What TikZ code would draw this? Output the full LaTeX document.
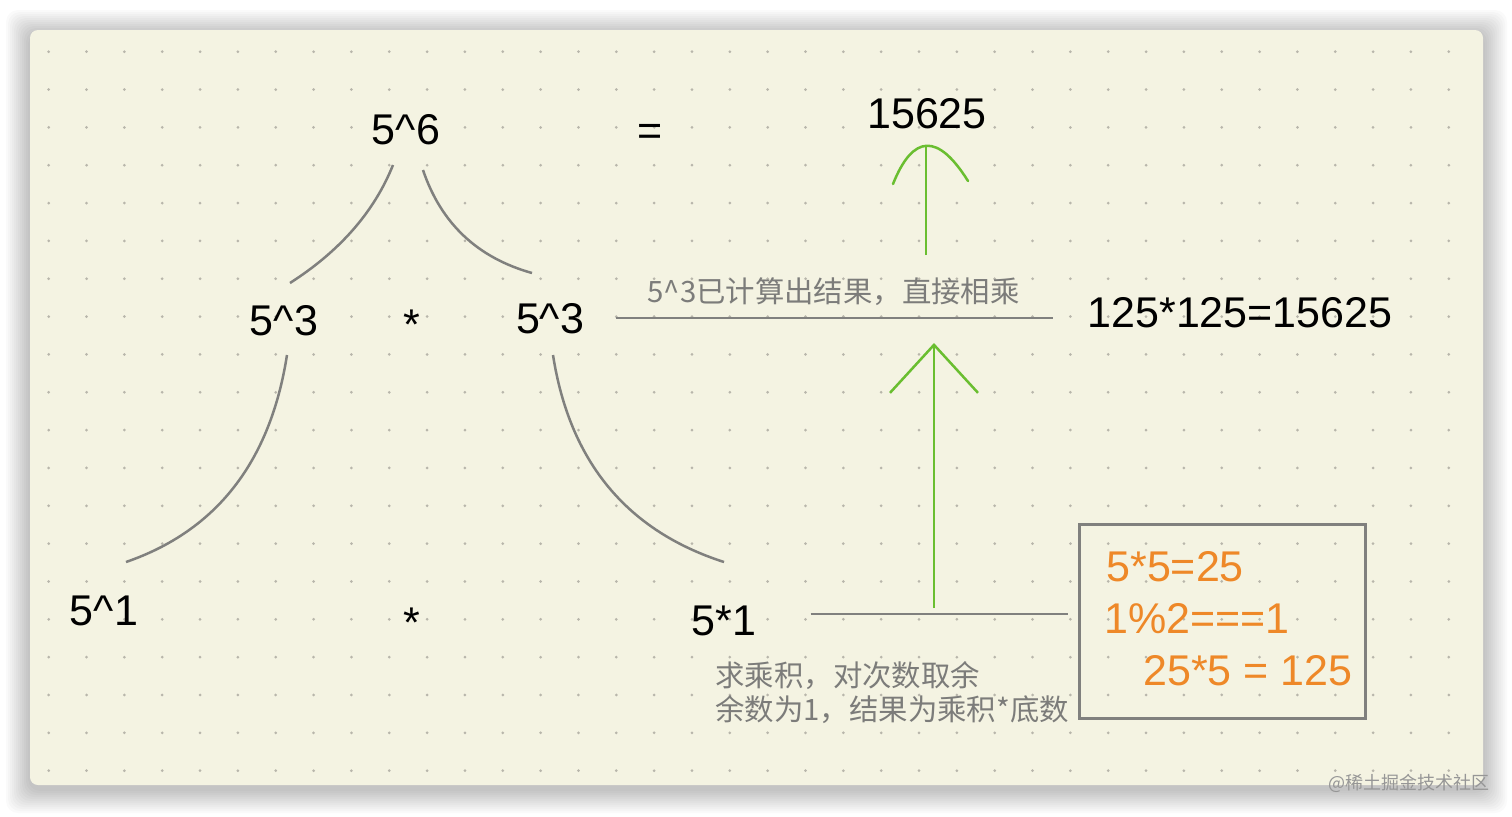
\documentclass[tikz,border=0pt]{standalone}
\usepackage{fontspec}
\setmainfont{Liberation Sans}
\newfontfamily\cjk{Noto Sans CJK SC}
\usepackage{xcolor}
\definecolor{colorCard}{RGB}{244,243,226}
\definecolor{colorDot}{RGB}{184,182,171}
\definecolor{colorSplit}{RGB}{128,128,126}
\definecolor{colorNote}{RGB}{124,124,122}
\definecolor{colorResult}{RGB}{106,190,48}
\definecolor{colorCalc}{RGB}{238,136,40}
\definecolor{colorMark}{RGB}{150,150,150}
\usetikzlibrary{arrows.meta}
\tikzset{
term/.style={font=\fontsize{21.5}{25}\selectfont, text=black, inner sep=0pt, anchor=base},
note/.style={font=\cjk\fontsize{14.7}{17}\selectfont, text=colorNote, inner sep=0pt, anchor=base west},
calc/.style={font=\fontsize{21.5}{25}\selectfont, text=colorCalc, inner sep=0pt, anchor=base west},
split/.style={draw=colorSplit, line width=1.25pt},
result/.style={draw=colorResult, line width=1.25pt},
}

\begin{document}
\begin{tikzpicture}[x=0.5pt, y=-0.5pt]
\useasboundingbox (0,0) rectangle (1512,816);
\fill[white] (0,0) rectangle (1512,816);
\foreach \s in {1,...,12}
  \fill[black, opacity=0.02, rounded corners=6pt] (30-2*\s,34-2*\s) rectangle (1483+2*\s,789+2*\s);
\fill[colorCard, rounded corners=4pt] (30,30) rectangle (1483,785);
\foreach \i in {0,...,37}
  \foreach \j in {0,...,19}
    \fill[colorDot] ({48.7+37.84*\i},{51.7+37.84*\j}) circle (0.75pt);

\node[term] (p6) at (406,144) {5\textasciicircum{}6};
\node[term] (eq) at (650,145) {=};
\node[term] (total) at (927,128) {15625};
\node[term] (p3l) at (284,335) {5\textasciicircum{}3};
\node[term] (mulTop) at (412,339) {*};
\node[term] (p3r) at (550,333) {5\textasciicircum{}3};
\node[term] (prod) at (1240,327) {125*125=15625};
\node[term] (p1) at (104,625) {5\textasciicircum{}1};
\node[term] (mulLow) at (412,637) {*};
\node[term] (odd) at (724,635) {5*1};

\node[note] (reuse) at (647,302) {5\textasciicircum{}3已计算出结果，直接相乘};
\node[note] (ruleA) at (715,686) {求乘积，对次数取余};
\node[note] (ruleB) at (715,720) {余数为1，结果为乘积*底数};

\node[draw=colorSplit, line width=1.5pt, outer sep=0pt, inner sep=0pt, minimum width=143pt, minimum height=97pt] (calcbox) at (1222,621) {};
\node[calc] (sq) at (1106,581) {5*5=25};
\node[calc] (mod) at (1104,633) {1\%2===1};
\node[calc] (mulb) at (1143,685) {25*5 = 125};
\node[font=\cjk\fontsize{9}{11}\selectfont, text=colorMark, anchor=east, inner sep=0pt] (mark) at (1490,783) {@稀土掘金技术社区};

\draw[split] ([shift={(-13,21)}]p6.base) .. controls +(-18.7,46.7) and +(50,-32) .. ([shift={(6,-52)}]p3l.base);
\draw[split] ([shift={(17,26)}]p6.base) .. controls +(18,53.3) and +(-54.7,-15.3) .. ([shift={(-18,-60)}]p3r.base);
\draw[split] ([shift={(3,20)}]p3l.base) .. controls +(-16.7,106.7) and +(90.7,-31.3) .. ([shift={(22,-63)}]p1.base);
\draw[split] ([shift={(3,22)}]p3r.base) .. controls +(16.7,106.7) and +(-97.3,-31.3) .. ([shift={(0,-73)}]odd.base);
\draw[split] ([shift={(66,-15)}]p3r.base) -- ([shift={(-34,-9)}]prod.base west);
\draw[split] ([shift={(54,-21)}]odd.base east) -- ([shift={(-11,-7)}]calcbox.west);

\coordinate (liftFrom) at (934,608);
\coordinate (liftTo) at (934,343);
\coordinate (riseFrom) at (926,255);
\coordinate (riseTo) at (926,146);
\draw[result, -{Straight Barb[length=24pt, width=44pt]}] (liftFrom) -- (liftTo);
\draw[result] (riseFrom) -- (riseTo);
\draw[result, line cap=round] ([shift={(-33,38)}]riseTo) .. controls ([shift={(-13,-12)}]riseTo) and ([shift={(12,-13)}]riseTo) .. ([shift={(42,35)}]riseTo);
\end{tikzpicture}
\end{document}
